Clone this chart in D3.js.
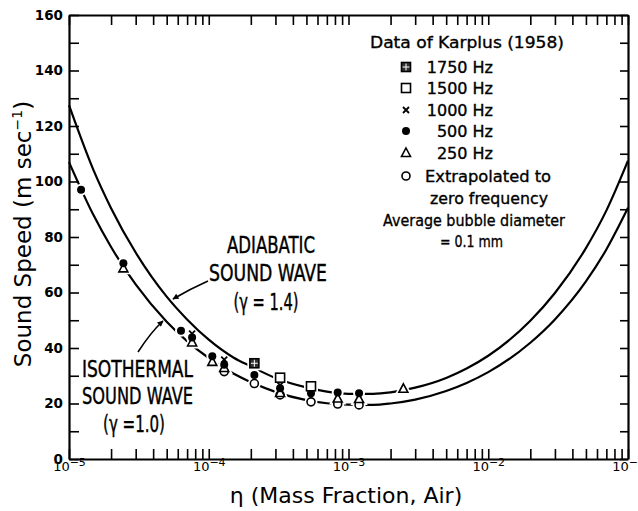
<!DOCTYPE html>
<html>
<head>
<meta charset="utf-8">
<script src="https://cdn.jsdelivr.net/npm/d3@7"></script>
<style>
  body { margin: 0; background: #fff; }
  svg { display: block; }
</style>
</head>
<body>
<script>
// curve samples (mass fraction of air -> sound speed, m/s)
var eta = [1e-5, 1.5e-5, 2e-5, 3e-5, 5e-5, 7e-5, 1e-4, 1.5e-4, 2e-4, 3e-4, 5e-4, 7e-4,
           1e-3, 1.5e-3, 2e-3, 3e-3, 5e-3, 7e-3, 1e-2, 2e-2, 3e-2, 5e-2, 7e-2, 1e-1];
var isothermal = [107, 87.8, 76.4, 62.9, 49.5, 42.5, 36.4, 30.8, 27.7, 24.2, 21.2, 20.1,
                  19.6, 19.5, 20.0, 21.4, 24.5, 27.4, 31.3, 41.9, 50.3, 64.0, 75.5, 90.5];
var adiabatic = [127.5, 104, 90.4, 74.4, 58.5, 50.3, 43.0, 36.6, 33.4, 29.2, 25.8, 24.3,
                 23.5, 23.5, 24.0, 25.7, 29.2, 32.6, 37.2, 49.8, 59.8, 76.0, 89.5, 107.5];

// Karplus (1958) data points [eta, speed]
var hz1750 = [[2.12e-4, 34.5]];
var hz1500 = [[3.24e-4, 29.3], [5.39e-4, 26.2]];
var hz1000 = [[7.6e-5, 45.2], [1.29e-4, 35.8], [3.24e-4, 26.6]];
var hz500 = [[1.22e-5, 97], [2.45e-5, 70.5], [6.33e-5, 46.2], [7.6e-5, 43.8], [1.06e-4, 37.0],
             [1.29e-4, 34.0], [2.12e-4, 30.3], [3.24e-4, 25.5], [5.39e-4, 23.7], [8.37e-4, 24.0],
             [1.19e-3, 23.7]];
var hz250 = [[2.45e-5, 68.7], [7.6e-5, 42.0], [1.06e-4, 35.0], [1.29e-4, 32.8], [3.24e-4, 23.8],
             [8.37e-4, 21.8], [1.19e-3, 21.6], [2.47e-3, 25.3]];
var zeroFreq = [[1.29e-4, 31.5], [2.12e-4, 27.2], [3.24e-4, 23.1], [5.39e-4, 20.6],
                [8.37e-4, 19.8], [1.19e-3, 19.5]];

var yTicks = [0, 10, 20, 30, 40, 50, 60, 70, 80, 90, 100, 110, 120, 130, 140, 150, 160];
var decades = [1e-5, 1e-4, 1e-3, 1e-2, 1e-1];
var legendRows = [['1750', '1750 Hz'], ['1500', '1500 Hz'], ['1000', '1000 Hz'],
                  ['500', '500 Hz'], ['250', '250 Hz'], ['zero', 'Extrapolated to']];

var size = { width: 638, height: 511 };
var plot = { left: 69, top: 15, right: 628, bottom: 459 };

var svg = d3.select('body').append('svg')
            .attr('width', size.width)
            .attr('height', size.height);

var x = d3.scaleLog().domain([1e-5, 1e-1]).range([plot.left, plot.right]);
var y = d3.scaleLinear().domain([0, 160]).range([plot.bottom, plot.top]);

var xTicks = [];
decades.forEach(function(d, i){
  if (i < decades.length - 1) {
    for (var k = 1; k < 10; k++) xTicks.push(k * d);
  } else {
    xTicks.push(d);
  }
});
function isDecade(v){
  return decades.some(function(d){ return Math.abs(v / d - 1) < 1e-6; });
}

var labelFont = 'DejaVu Sans, Verdana, sans-serif';
var noteFont = 'Liberation Sans Narrow, DejaVu Sans Condensed, Arial Narrow, sans-serif';

// axes
var axisLeftG = svg.append('g')
  .attr('transform', 'translate(' + plot.left + ',0)')
  .call(d3.axisLeft(y).tickValues(yTicks).tickSize(-10).tickSizeOuter(0).tickPadding(6)
        .tickFormat(function(d){ return d % 20 ? '' : d; }));

var axisRightG = svg.append('g')
  .attr('transform', 'translate(' + plot.right + ',0)')
  .call(d3.axisRight(y).tickValues(yTicks).tickSize(-8).tickSizeOuter(0).tickFormat(''));

var axisBottomG = svg.append('g')
  .attr('transform', 'translate(0,' + plot.bottom + ')')
  .call(d3.axisBottom(x).tickValues(xTicks).tickSize(-10).tickSizeOuter(0).tickPadding(3)
        .tickFormat(function(d){ return isDecade(d) ? '10' : ''; }));

var axisTopG = svg.append('g')
  .attr('transform', 'translate(0,' + plot.top + ')')
  .call(d3.axisTop(x).tickValues(xTicks).tickSize(-10).tickSizeOuter(0).tickFormat(''));

[axisLeftG, axisRightG, axisBottomG, axisTopG].forEach(function(g){
  g.select('.domain').attr('stroke', '#000').attr('stroke-width', 2.2);
  g.selectAll('.tick line').attr('stroke', '#000').attr('stroke-width', 1.6);
  g.selectAll('text').attr('fill', '#000').attr('font-family', labelFont)
   .attr('font-weight', 'bold');
});
axisLeftG.selectAll('text').attr('font-size', 13.5).attr('dy', '0.3em');
axisBottomG.selectAll('text').attr('font-size', 13).attr('font-weight', 'normal')
  .each(function(d){
    if (!isDecade(d)) return;
    d3.select(this).append('tspan')
      .attr('dy', -5).attr('font-size', 11)
      .text('\u2212' + Math.round(-Math.log10(d)));
  });

// curves
var line = d3.line()
  .x(function(d){ return x(d[0]); })
  .y(function(d){ return y(d[1]); })
  .curve(d3.curveMonotoneX);

svg.append('path').datum(d3.zip(eta, adiabatic))
   .attr('d', line).attr('fill', 'none').attr('stroke', '#000').attr('stroke-width', 2.2);
svg.append('path').datum(d3.zip(eta, isothermal))
   .attr('d', line).attr('fill', 'none').attr('stroke', '#000').attr('stroke-width', 2.2);

// markers
function drawMarker(g, type, cx, cy, halo){
  var stroke = halo ? '#fff' : '#000';
  var sw = halo ? 5 : 1.6;
  if (type === '1750' || type === '1500') {
    g.append('rect').attr('x', cx - 4.5).attr('y', cy - 4.5).attr('width', 9).attr('height', 9)
     .attr('fill', halo ? '#fff' : (type === '1750' ? '#333' : '#fff'))
     .attr('stroke', stroke).attr('stroke-width', sw);
    if (type === '1750' && !halo) {
      g.append('path').attr('d', 'M' + cx + ',' + (cy - 3.5) + 'V' + (cy + 3.5) +
                                 'M' + (cx - 3.5) + ',' + cy + 'H' + (cx + 3.5))
       .attr('stroke', '#fff').attr('stroke-width', 1);
    }
  } else if (type === '1000') {
    g.append('path').attr('d', 'M' + (cx - 3) + ',' + (cy - 3) + 'L' + (cx + 3) + ',' + (cy + 3) +
                               'M' + (cx + 3) + ',' + (cy - 3) + 'L' + (cx - 3) + ',' + (cy + 3))
     .attr('stroke', stroke).attr('stroke-width', halo ? 5 : 1.8);
  } else if (type === '500') {
    g.append('circle').attr('cx', cx).attr('cy', cy).attr('r', 4)
     .attr('fill', halo ? '#fff' : '#000').attr('stroke', stroke).attr('stroke-width', halo ? 4 : 0);
  } else if (type === '250') {
    g.append('path').attr('d', 'M' + cx + ',' + (cy - 5) + 'L' + (cx + 4.5) + ',' + (cy + 3.5) +
                               'L' + (cx - 4.5) + ',' + (cy + 3.5) + 'Z')
     .attr('fill', '#fff').attr('stroke', stroke).attr('stroke-width', halo ? 5 : 1.6);
  } else {
    g.append('circle').attr('cx', cx).attr('cy', cy).attr('r', 4)
     .attr('fill', '#fff').attr('stroke', stroke).attr('stroke-width', halo ? 5 : 1.6);
  }
}

var series = [['zero', zeroFreq], ['250', hz250], ['500', hz500], ['1000', hz1000],
              ['1500', hz1500], ['1750', hz1750]];
var marks = svg.append('g').classed('marks', true);
var halos = marks.append('g');
var points = marks.append('g');
series.forEach(function(s){
  s[1].forEach(function(d){ drawMarker(halos, s[0], x(d[0]), y(d[1]), true); });
});
series.forEach(function(s){
  s[1].forEach(function(d){ drawMarker(points, s[0], x(d[0]), y(d[1]), false); });
});

// legend
var legend = svg.append('g').classed('legend', true)
  .attr('font-family', labelFont).attr('font-size', 16).attr('fill', '#000')
  .attr('stroke', '#000').attr('stroke-width', 0.35);
legend.append('text').attr('x', 467).attr('y', 48).attr('text-anchor', 'middle')
      .attr('textLength', 194).attr('lengthAdjust', 'spacingAndGlyphs')
      .text('Data of Karplus (1958)');
var rowY = [67, 88, 110, 131, 153, 176];
legendRows.forEach(function(r, i){
  drawMarker(legend, r[0], 406, rowY[i], false);
  if (r[0] === 'zero') {
    legend.append('text').attr('x', 425).attr('y', rowY[i] + 6)
          .attr('textLength', 126).attr('lengthAdjust', 'spacingAndGlyphs').text(r[1]);
  } else {
    legend.append('text').attr('x', 493).attr('y', rowY[i] + 6).attr('text-anchor', 'end').text(r[1]);
  }
});
legend.append('text').attr('x', 430).attr('y', 204)
      .attr('textLength', 118).attr('lengthAdjust', 'spacingAndGlyphs').text('zero frequency');
legend.append('text').attr('x', 383).attr('y', 226)
      .attr('textLength', 182).attr('lengthAdjust', 'spacingAndGlyphs').text('Average bubble diameter');
legend.append('text').attr('x', 440).attr('y', 247)
      .attr('textLength', 63).attr('lengthAdjust', 'spacingAndGlyphs').text('= 0.1 mm');

// annotations
var notes = [
  ['ADIABATIC', 271, 253, 88],
  ['SOUND WAVE', 268, 281, 118],
  ['(\u03b3 = 1.4)', 266, 310, 65],
  ['ISOTHERMAL', 137.5, 377, 111],
  ['SOUND WAVE', 137.5, 404, 111],
  ['(\u03b3 =1.0)', 134, 432, 62]
];
svg.selectAll('text.note').data(notes).enter().append('text')
   .classed('note', true)
   .attr('x', function(d){ return d[1]; })
   .attr('y', function(d){ return d[2]; })
   .attr('text-anchor', 'middle')
   .attr('font-family', noteFont).attr('font-size', 23)
   .attr('stroke', '#000').attr('stroke-width', 0.4)
   .attr('textLength', function(d){ return d[3]; })
   .attr('lengthAdjust', 'spacingAndGlyphs')
   .text(function(d){ return d[0]; });

svg.append('defs').append('marker')
   .attr('id', 'arrow').attr('viewBox', '0 0 10 10').attr('refX', 9).attr('refY', 5)
   .attr('markerWidth', 9).attr('markerHeight', 6).attr('markerUnits', 'userSpaceOnUse')
   .attr('orient', 'auto')
   .append('path').attr('d', 'M0,0L10,5L0,10Z').attr('fill', '#000');

svg.append('path').attr('d', 'M208,281 Q190,289 173,299')
   .attr('fill', 'none').attr('stroke', '#000').attr('stroke-width', 1.6)
   .attr('marker-end', 'url(#arrow)');
svg.append('path').attr('d', 'M138,352 Q151,332 163,321')
   .attr('fill', 'none').attr('stroke', '#000').attr('stroke-width', 1.6)
   .attr('marker-end', 'url(#arrow)');

// axis titles
svg.append('text')
   .attr('transform', 'translate(31,234) rotate(-90)')
   .attr('text-anchor', 'middle')
   .attr('font-family', labelFont).attr('font-size', 23)
   .text('Sound Speed (m sec')
   .call(function(t){
     t.append('tspan').attr('dy', -9).attr('font-size', 14).text('\u22121');
     t.append('tspan').attr('dy', 9).text(')');
   });
svg.append('text')
   .attr('x', 346).attr('y', 503)
   .attr('text-anchor', 'middle')
   .attr('font-family', labelFont).attr('font-size', 22)
   .text('\u03b7 (Mass Fraction, Air)');
</script>
</body>
</html>
